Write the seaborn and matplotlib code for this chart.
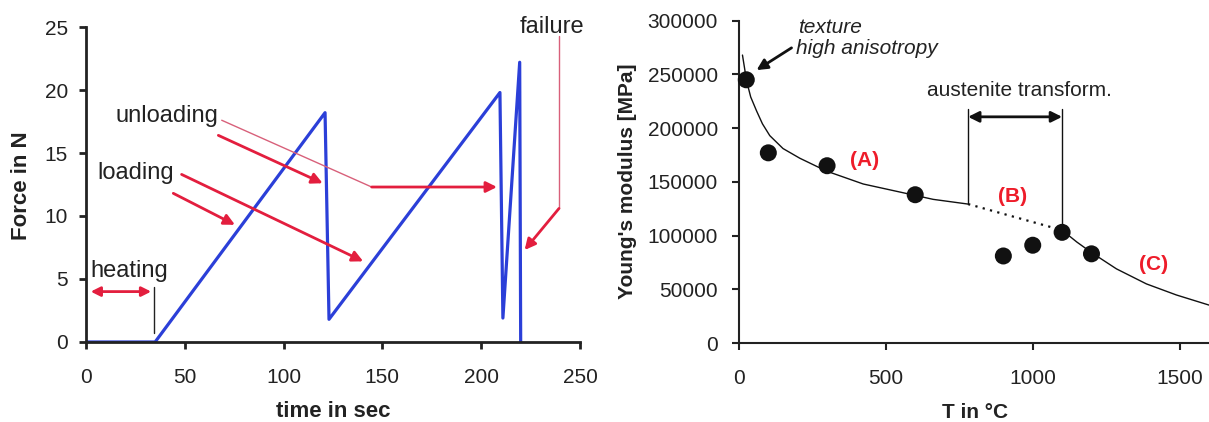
import matplotlib
matplotlib.use("Agg")
import matplotlib.pyplot as plt
import seaborn as sns
import pandas as pd

# ---- left panel: force history of the hot tensile test ----
time_s = [0, 35, 121, 123, 209.5, 211, 219.5, 220]
force_n = [0, 0, 18.2, 1.8, 19.8, 1.9, 22.2, 0]
force_xticks = [0, 50, 100, 150, 200, 250]
force_yticks = [0, 5, 10, 15, 20, 25]

# ---- right panel: Young's modulus vs temperature ----
temp_meas = [25, 100, 300, 600, 900, 1000, 1100, 1200]
modulus_meas = [245000, 177000, 165000, 138000, 81000, 91000, 103000, 83000]

# fitted trend: ferritic range (A), transformation range (B), austenitic range (C)
temp_fit_a = [12, 26, 40, 60, 80, 105, 150, 207, 298, 423, 548, 661, 780]
modulus_fit_a = [268000, 244000, 229000, 216000, 204000, 193000, 181000,
                 172000, 160000, 148000, 140500, 133700, 129300]
temp_fit_b = [780, 1100]
modulus_fit_b = [129300, 105000]
temp_fit_c = [1100, 1150, 1201, 1285, 1387, 1489, 1600]
modulus_fit_c = [105000, 94000, 84000, 69000, 55000, 44700, 35300]
modulus_yticks = [0, 50000, 100000, 150000, 200000, 250000, 300000]
temp_xticks = [0, 500, 1000, 1500]

sns.set_theme(style="white")
plt.rcParams["font.family"] = ["Liberation Sans", "DejaVu Sans"]

TEXT = "#222222"
BLUE = "#2b3fd8"
RED = "#e31e3e"
PINK = "#d8607a"
LABEL_RED = "#ee1c2a"

fig = plt.figure(figsize=(12.09, 4.22), dpi=100)
ax1 = fig.add_axes([0.0711, 0.1896, 0.4086, 0.7464])
ax2 = fig.add_axes([0.6112, 0.1872, 0.3888, 0.7638])

# ---------------- left panel ----------------
df_force = pd.DataFrame({"time": time_s, "force": force_n})
sns.lineplot(data=df_force, x="time", y="force", ax=ax1, sort=False,
             estimator=None, color=BLUE, lw=2.3)
ax1.set_xlim(0, 250)
ax1.set_ylim(0, 25)
ax1.set_xticks(force_xticks)
ax1.set_yticks(force_yticks)
ax1.tick_params(axis="x", bottom=True, direction="out", length=5, width=2,
                pad=14, labelsize=15, colors=TEXT)
ax1.tick_params(axis="y", left=True, direction="out", length=5, width=2,
                pad=8, labelsize=15, colors=TEXT)
for side in ("top", "right"):
    ax1.spines[side].set_visible(False)
for side in ("left", "bottom"):
    ax1.spines[side].set_linewidth(2)
    ax1.spines[side].set_color(TEXT)
ax1.set_xlabel("time in sec", fontsize=16, fontweight="bold", color=TEXT)
ax1.set_ylabel("Force in N", fontsize=16, fontweight="bold", color=TEXT)
ax1.xaxis.set_label_coords(0.501, -0.222)
ax1.xaxis.label.set_va("center")
ax1.yaxis.set_label_coords(-0.130, 0.495)
ax1.yaxis.label.set_va("center")

thick = dict(arrowstyle="-|>", color=RED, lw=2, mutation_scale=16,
             shrinkA=0, shrinkB=0)
ax1.text(14.7, 17.9, "unloading", fontsize=17, color=TEXT, va="center")
ax1.text(6.0, 13.4, "loading", fontsize=17, color=TEXT, va="center")
ax1.text(2.4, 5.6, "heating", fontsize=17, color=TEXT, va="center")
ax1.text(219.5, 25.0, "failure", fontsize=17, color=TEXT, va="center",
         clip_on=False)

# unloading arrows
ax1.plot([68.7, 144.6], [17.6, 12.3], color=PINK, lw=1)
ax1.annotate("", xy=(208, 12.3), xytext=(144.6, 12.3), arrowprops=thick)
ax1.annotate("", xy=(119.8, 12.6), xytext=(67, 16.4), arrowprops=thick)
# loading arrows
ax1.annotate("", xy=(140.3, 6.4), xytext=(48.4, 13.3), arrowprops=thick)
ax1.annotate("", xy=(75.4, 9.3), xytext=(44.2, 11.8), arrowprops=thick)
# heating span
ax1.annotate("", xy=(2.4, 4.0), xytext=(33, 4.0),
             arrowprops=dict(arrowstyle="<|-|>", color=RED, lw=2,
                             mutation_scale=14, shrinkA=0, shrinkB=0))
ax1.plot([34.4, 34.4], [0.7, 4.4], color=TEXT, lw=1)
# failure arrow
ax1.plot([239.4, 239.4], [24.3, 10.6], color=PINK, lw=1, clip_on=False)
ax1.annotate("", xy=(222, 7.3), xytext=(239.4, 10.6), arrowprops=thick)

# ---------------- right panel ----------------
df_meas = pd.DataFrame({"T": temp_meas, "E": modulus_meas})
sns.lineplot(x=temp_fit_a, y=modulus_fit_a, ax=ax2, color="#111111", lw=1,
             sort=False, estimator=None)
sns.lineplot(x=temp_fit_b, y=modulus_fit_b, ax=ax2, color="#111111", lw=1.6,
             linestyle=(0, (1.0, 2.4)), sort=False, estimator=None)
sns.lineplot(x=temp_fit_c, y=modulus_fit_c, ax=ax2, color="#111111", lw=1,
             sort=False, estimator=None)
sns.scatterplot(data=df_meas, x="T", y="E", ax=ax2, color="#111111", s=150,
                edgecolor="none", zorder=5, clip_on=False)
ax2.set_xlim(0, 1600)
ax2.set_ylim(0, 300000)
ax2.set_xticks(temp_xticks)
ax2.set_yticks(modulus_yticks)
ax2.set_xticklabels([str(v) for v in temp_xticks])
ax2.set_yticklabels([str(v) for v in modulus_yticks])
ax2.tick_params(axis="x", bottom=True, direction="out", length=5, width=1.5,
                pad=14, labelsize=15, colors=TEXT)
ax2.tick_params(axis="y", left=True, direction="out", length=5, width=1.5,
                pad=10, labelsize=15, colors=TEXT)
for side in ("top", "right"):
    ax2.spines[side].set_visible(False)
for side in ("left", "bottom"):
    ax2.spines[side].set_linewidth(1.5)
    ax2.spines[side].set_color(TEXT)
ax2.set_xlabel("T in °C", fontsize=15, fontweight="bold", color=TEXT)
ax2.set_ylabel("Young's modulus [MPa]", fontsize=15, fontweight="bold",
               color=TEXT)
ax2.xaxis.set_label_coords(0.502, -0.216)
ax2.xaxis.label.set_va("center")
ax2.yaxis.set_label_coords(-0.237, 0.503)
ax2.yaxis.label.set_va("center")

ax2.text(200, 294000, "texture", fontsize=15, style="italic", color=TEXT,
         va="center")
ax2.text(195, 274500, "high anisotropy", fontsize=15, style="italic",
         color=TEXT, va="center")
ax2.annotate("", xy=(60, 254000), xytext=(179, 274700),
             arrowprops=dict(arrowstyle="-|>", color="#111111", lw=2,
                             mutation_scale=16, shrinkA=0, shrinkB=0))

ax2.plot([780, 780], [129300, 218000], color="#111111", lw=1)
ax2.plot([1100, 1100], [105000, 218000], color="#111111", lw=1)
ax2.annotate("", xy=(780, 210500), xytext=(1100, 210500),
             arrowprops=dict(arrowstyle="<|-|>", color="#111111", lw=2,
                             mutation_scale=16, shrinkA=0, shrinkB=0))
ax2.text(955, 235000, "austenite transform.", fontsize=15, color=TEXT,
         ha="center", va="center")

ax2.text(428, 170000, "(A)", fontsize=15, fontweight="bold", color=LABEL_RED,
         ha="center", va="center")
ax2.text(933, 136000, "(B)", fontsize=15, fontweight="bold", color=LABEL_RED,
         ha="center", va="center")
ax2.text(1412, 72600, "(C)", fontsize=15, fontweight="bold", color=LABEL_RED,
         ha="center", va="center")

fig.savefig("out.png", dpi=100)
